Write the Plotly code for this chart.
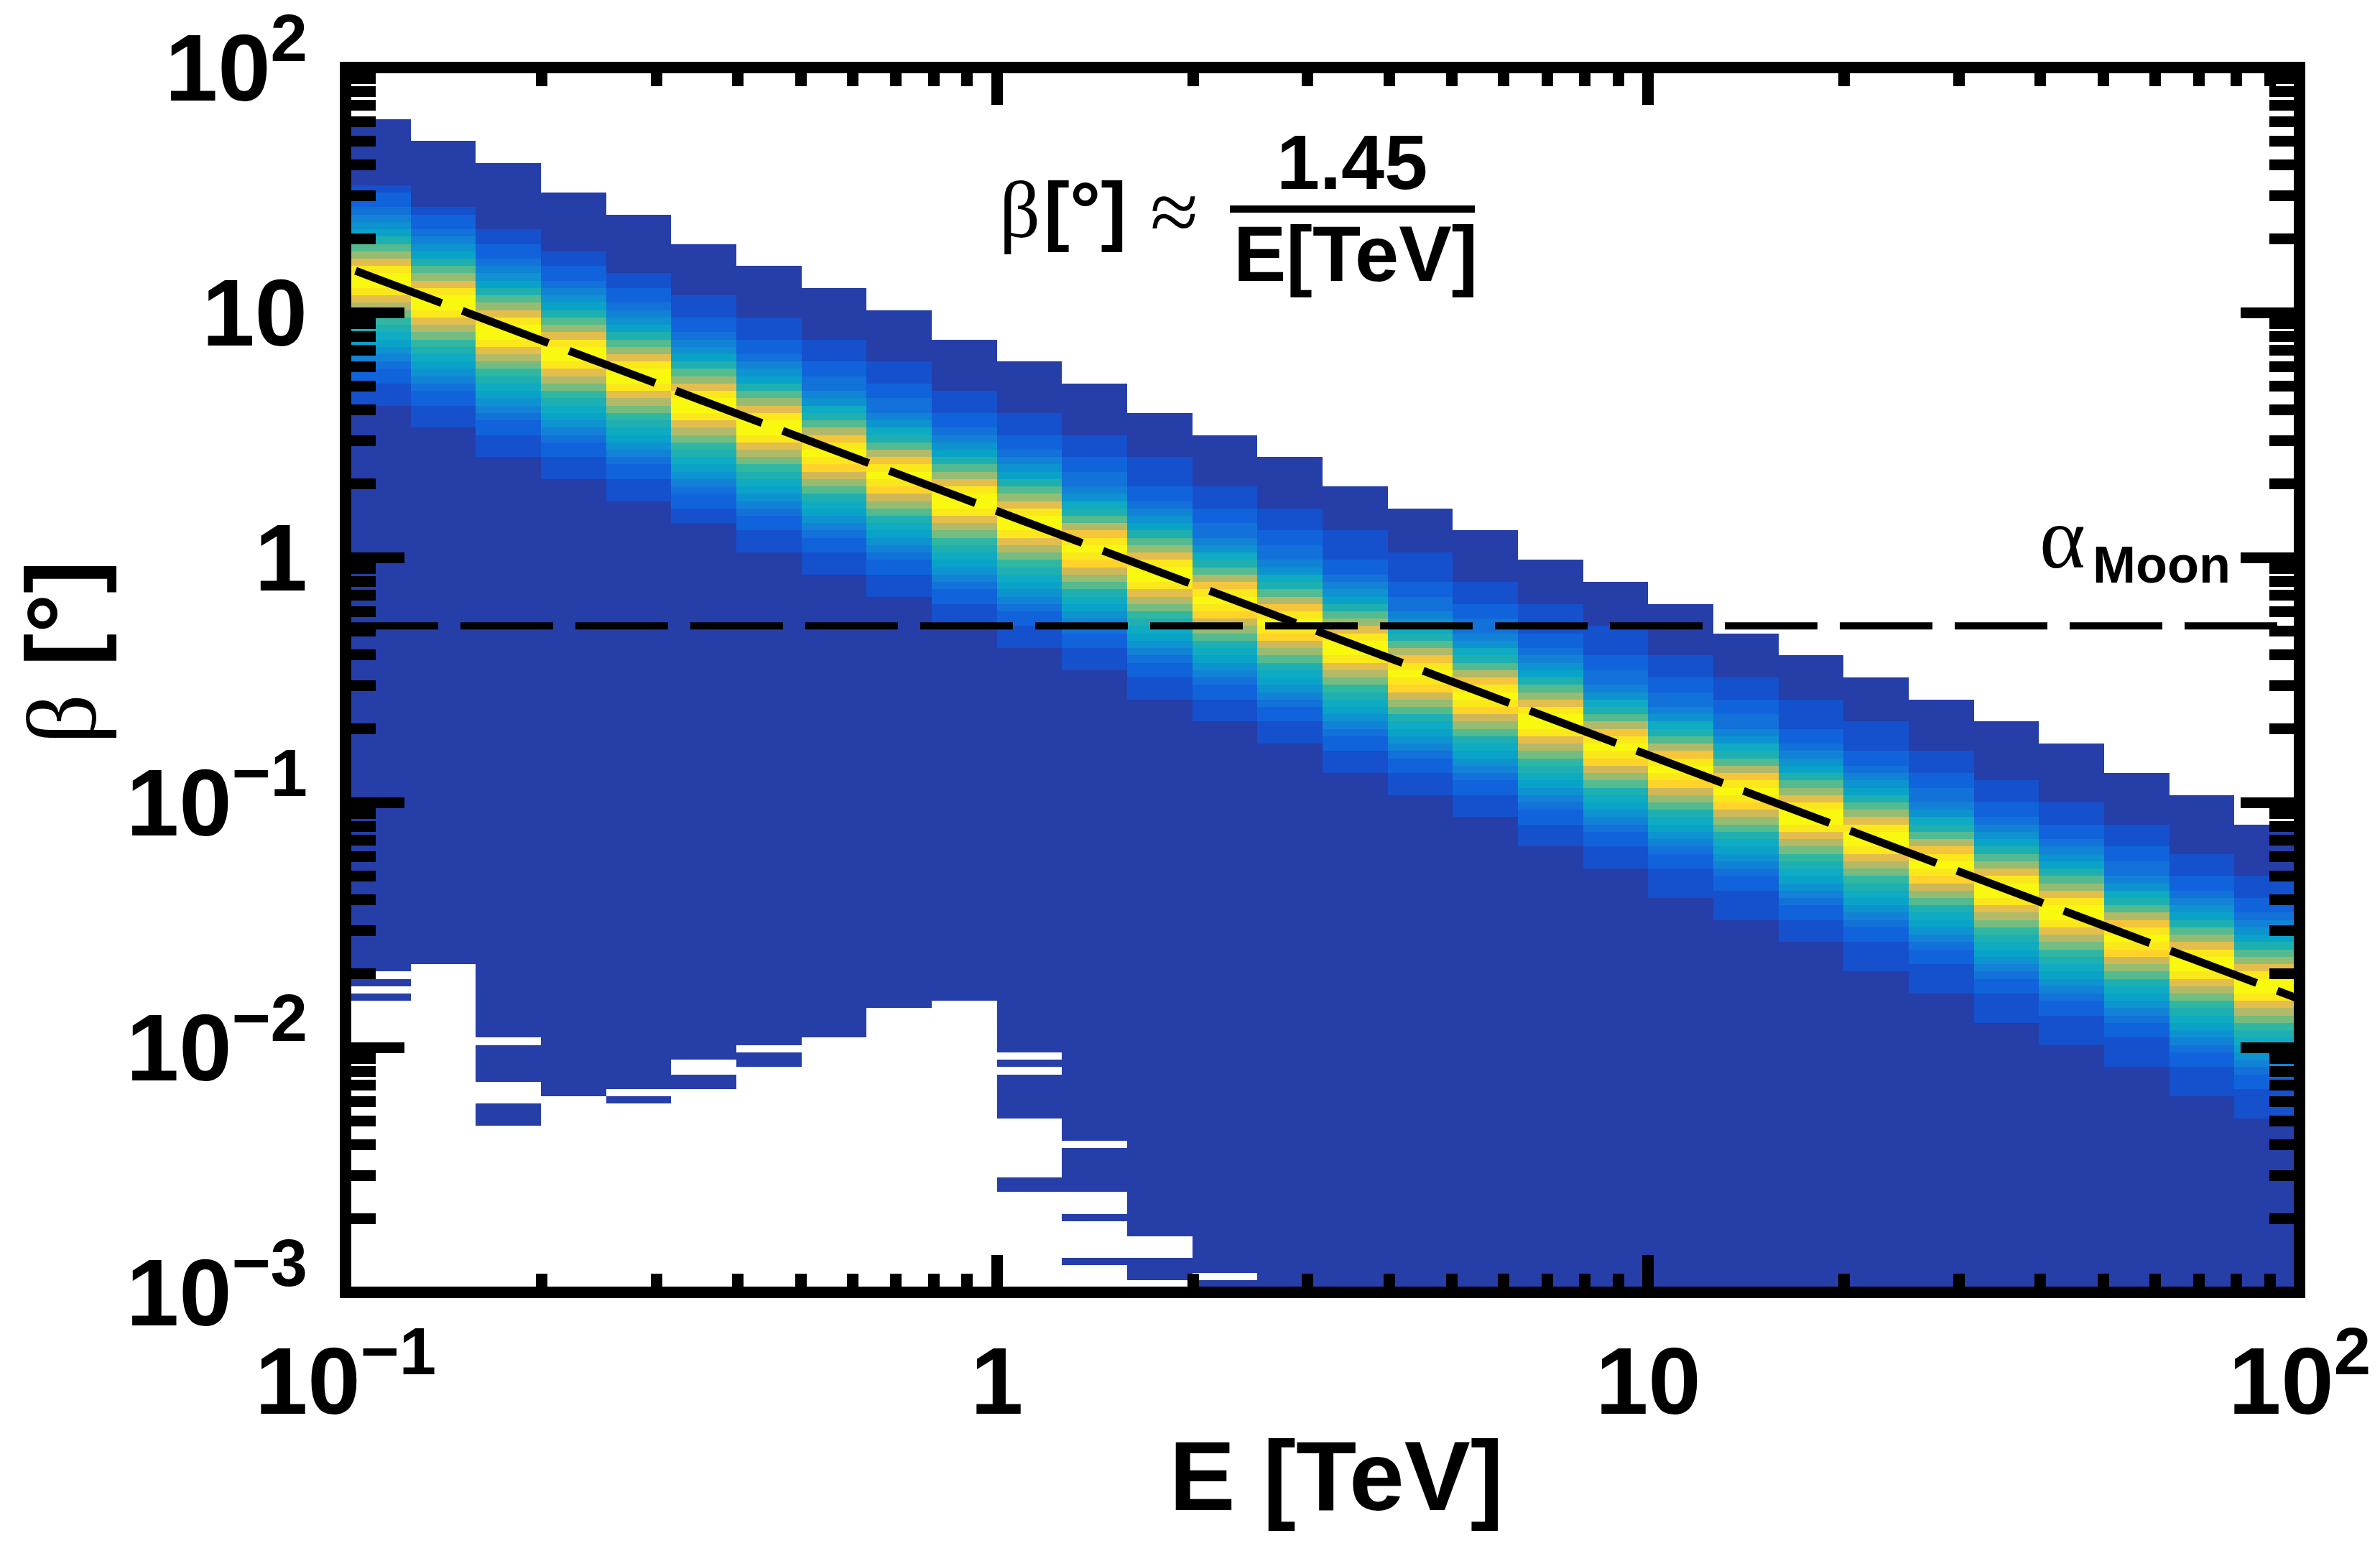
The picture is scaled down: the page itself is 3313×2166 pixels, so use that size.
import numpy as np
import plotly.graph_objects as go

# ---------- data ----------
N_COLS = 30
N_ROWS = 167          # rows counted downward from beta = 100
E_EDGES_LOG_STEP = 0.1
BETA_EDGES_LOG_STEP = 0.03

top_rows = [7,10,13,17,20,24,27,30,33,37,40,43,47,50,53,57,60,63,67,70,73,77,80,83,86,89,92,96,99,103]
blue_top = [16,19,22,25,28,31,34,37,40,44,47,50,53,57,60,63,66,70,73,76,80,83,86,89,93,97,100,103,107,110]
blue_stop = [46,49,53,56,59,62,66,69,72,76,79,82,86,89,92,96,99,102,106,109,113,116,119,123,126,130,133,136,140,143]
yellow_first = [28,31,35,38,41,45,48,52,55,58,61,65,68,72,75,78,82,85,88,92,95,98,101,104,108,111,114,118,121,124]
yellow_count = [2,2,2,2,2,2,2,1,1,2,2,1,2,1,1,2,1,1,2,1,1,1,2,2,1,2,2,1,2,2]

two_row_up = [18,15,12,10,8,6,5,4,3,2,2]
two_row_down = [18,15,13,11,9,8,7,6,5,4,3,2,2]
one_row_up = [18,16,13,10,8,7,5,4,3,3,2,2]
one_row_down = [18,17,14,12,10,8,7,6,5,4,3,2,2]

white_rows = {
    0: [[123,123],[125,125],[127,166]],
    1: [[122,166]],
    2: [[132,132],[138,140],[144,166]],
    3: [[140,166]],
    4: [[139,139],[141,166]],
    5: [[135,136],[139,166]],
    6: [[133,133],[136,166]],
    7: [[132,166]],
    8: [[128,166]],
    9: [[127,166]],
    10: [[134,134],[136,136],[143,150],[153,166]],
    11: [[146,146],[153,155],[157,161],[163,166]],
    12: [[159,161],[165,165]],
    13: [[164,164],[166,166]],
}

level_colors = ["#263EA8","#1550CD","#1163DB","#1272D9","#1282D6","#0D93D0","#0AA3C8","#0FABC3",
                "#1EAFB1","#30B7A2","#54BA90","#75BC80","#96BC72","#B2BA68","#CFB858","#E3BE4C",
                "#F5C53A","#FFD32A","#FBE81C","#F9F90F"]

fit_E = [0.1036, 100]
fit_beta = [14.8, 0.01574]
moon_E = [0.1, 100]
moon_beta = [0.526, 0.526]

major_vals = [0.001, 0.01, 0.1, 1, 10, 100]
y_tick_text = ["10<sup>−3</sup>", "10<sup>−2</sup>", "10<sup>−1</sup>", "1", "10", "10<sup>2</sup>"]
x_major_vals = [0.1, 1, 10, 100]
x_tick_text = ["10<sup>−1</sup>", "1", "10", "10<sup>2</sup>"]
x_minor_vals = [m * d for d in (0.1, 1, 10) for m in range(2, 10)]
y_minor_vals = [m * d for d in (0.001, 0.01, 0.1, 1, 10) for m in range(2, 10)]

# ---------- build histogram matrix ----------
z = np.full((N_ROWS, N_COLS), np.nan)
for c in range(N_COLS):
    z[top_rows[c]:, c] = 0
    z[blue_top[c]:blue_stop[c], c] = 1
    first = yellow_first[c]
    n = yellow_count[c]
    z[first:first + n, c] = 19
    up = two_row_up if n == 2 else one_row_up
    down = two_row_down if n == 2 else one_row_down
    for i, lv in enumerate(up):
        z[first - 1 - i, c] = lv
    for i, lv in enumerate(down):
        z[first + n + i, c] = lv
    for a, b in white_rows.get(c, []):
        z[a:b + 1, c] = np.nan

x_edges = 10 ** (-1 + E_EDGES_LOG_STEP * np.arange(N_COLS + 1))
y_edges = 10 ** (2 - BETA_EDGES_LOG_STEP * np.arange(N_ROWS, -1, -1))
z_up = z[::-1]

PAGE_INSET = 8   # the page's body margin
W, H = 3313 - PAGE_INSET, 2166 - PAGE_INSET
L, R, T, B = 481, 3201, 94, 1799   # plot corners in screenshot pixels

def px(x):
    return (x - L) / (R - L)

def py(y):
    return (B - y) / (B - T)

SANS = "Liberation Sans"
SERIF = "Liberation Serif"

fig = go.Figure()
n_lv = len(level_colors) - 1
fig.add_trace(go.Heatmap(
    x=x_edges, y=y_edges, z=z_up, zmin=0, zmax=n_lv,
    colorscale=[[i / n_lv, col] for i, col in enumerate(level_colors)],
    showscale=False, hoverinfo="skip", zsmooth=False,
))
fig.add_trace(go.Scatter(x=moon_E, y=moon_beta, mode="lines", showlegend=False, hoverinfo="skip",
                         line=dict(color="black", width=10, dash="129px,31px")))
fig.add_trace(go.Scatter(x=fit_E, y=fit_beta, mode="lines", showlegend=False, hoverinfo="skip",
                         line=dict(color="black", width=11, dash="128px,30.7px")))

tick_font = dict(family=SANS, size=132, color="black", weight="bold")

def note(text, x, y, size, family=SANS, weight="bold", xanchor="left"):
    fig.add_annotation(text=text, x=px(x), y=py(y), xref="paper", yref="paper", showarrow=False,
                       xanchor=xanchor, yanchor="middle", borderpad=0,
                       font=dict(family=family, size=size, color="black", weight=weight))

note("β", 1390, 292, 112, family=SERIF, weight="normal")
note("[°]", 1452, 292, 108)
note("≈", 1600, 294, 122, family=SERIF, weight="normal")
note("1.45", 1882, 226, 108, xanchor="center")
note("E[TeV]", 1887, 352, 110, xanchor="center")
note("α", 2838, 748, 122, family=SERIF, weight="normal")
note("Moon", 2912, 786, 72)

fig.add_shape(type="line", xref="paper", yref="paper", x0=px(1712), x1=px(2053), y0=py(291), y1=py(291),
              line=dict(color="black", width=10), layer="above")
fig.add_shape(type="rect", xref="paper", yref="paper", x0=0, x1=1, y0=0, y1=1,
              line=dict(color="black", width=16), layer="above")

fig.update_layout(
    width=W, height=H, autosize=False, plot_bgcolor="white", paper_bgcolor="white",
    margin=dict(l=L - PAGE_INSET, r=W + PAGE_INSET - R, t=T - PAGE_INSET, b=H + PAGE_INSET - B, pad=0,
                autoexpand=False),
    showlegend=False,
    font=dict(family=SANS),
    xaxis=dict(
        type="log", range=[-1, 2], showgrid=False, zeroline=False, showline=False, mirror="ticks",
        ticks="inside", ticklen=52, tickwidth=16, tickcolor="black",
        tickmode="array", tickvals=x_major_vals, ticktext=x_tick_text, tickfont=tick_font,
        ticklabelstandoff=36, ticklabeloverflow="allow",
        minor=dict(ticks="inside", ticklen=26, tickwidth=16, tickcolor="black", tickmode="array",
                   tickvals=x_minor_vals, showgrid=False),
        title=dict(text="\u200b\u00a0E [TeV]", standoff=10,
                   font=dict(family=SANS, size=138, color="black", weight="bold")),
    ),
    yaxis=dict(
        type="log", range=[-3, 2], showgrid=False, zeroline=False, showline=False, mirror="ticks",
        ticks="inside", ticklen=82, tickwidth=15, tickcolor="black",
        tickmode="array", tickvals=major_vals, ticktext=y_tick_text, tickfont=tick_font,
        ticklabelstandoff=52, ticklabeloverflow="allow",
        minor=dict(ticks="inside", ticklen=42, tickwidth=15, tickcolor="black", tickmode="array",
                   tickvals=y_minor_vals, showgrid=False),
        title=dict(text="\u200b\u00a0\u00a0<span style=\"font-family:Liberation Serif;font-weight:normal\">β</span> [°]",
                   standoff=22, font=dict(family=SANS, size=138, color="black", weight="bold")),
    ),
)

fig.write_html("out.html")
